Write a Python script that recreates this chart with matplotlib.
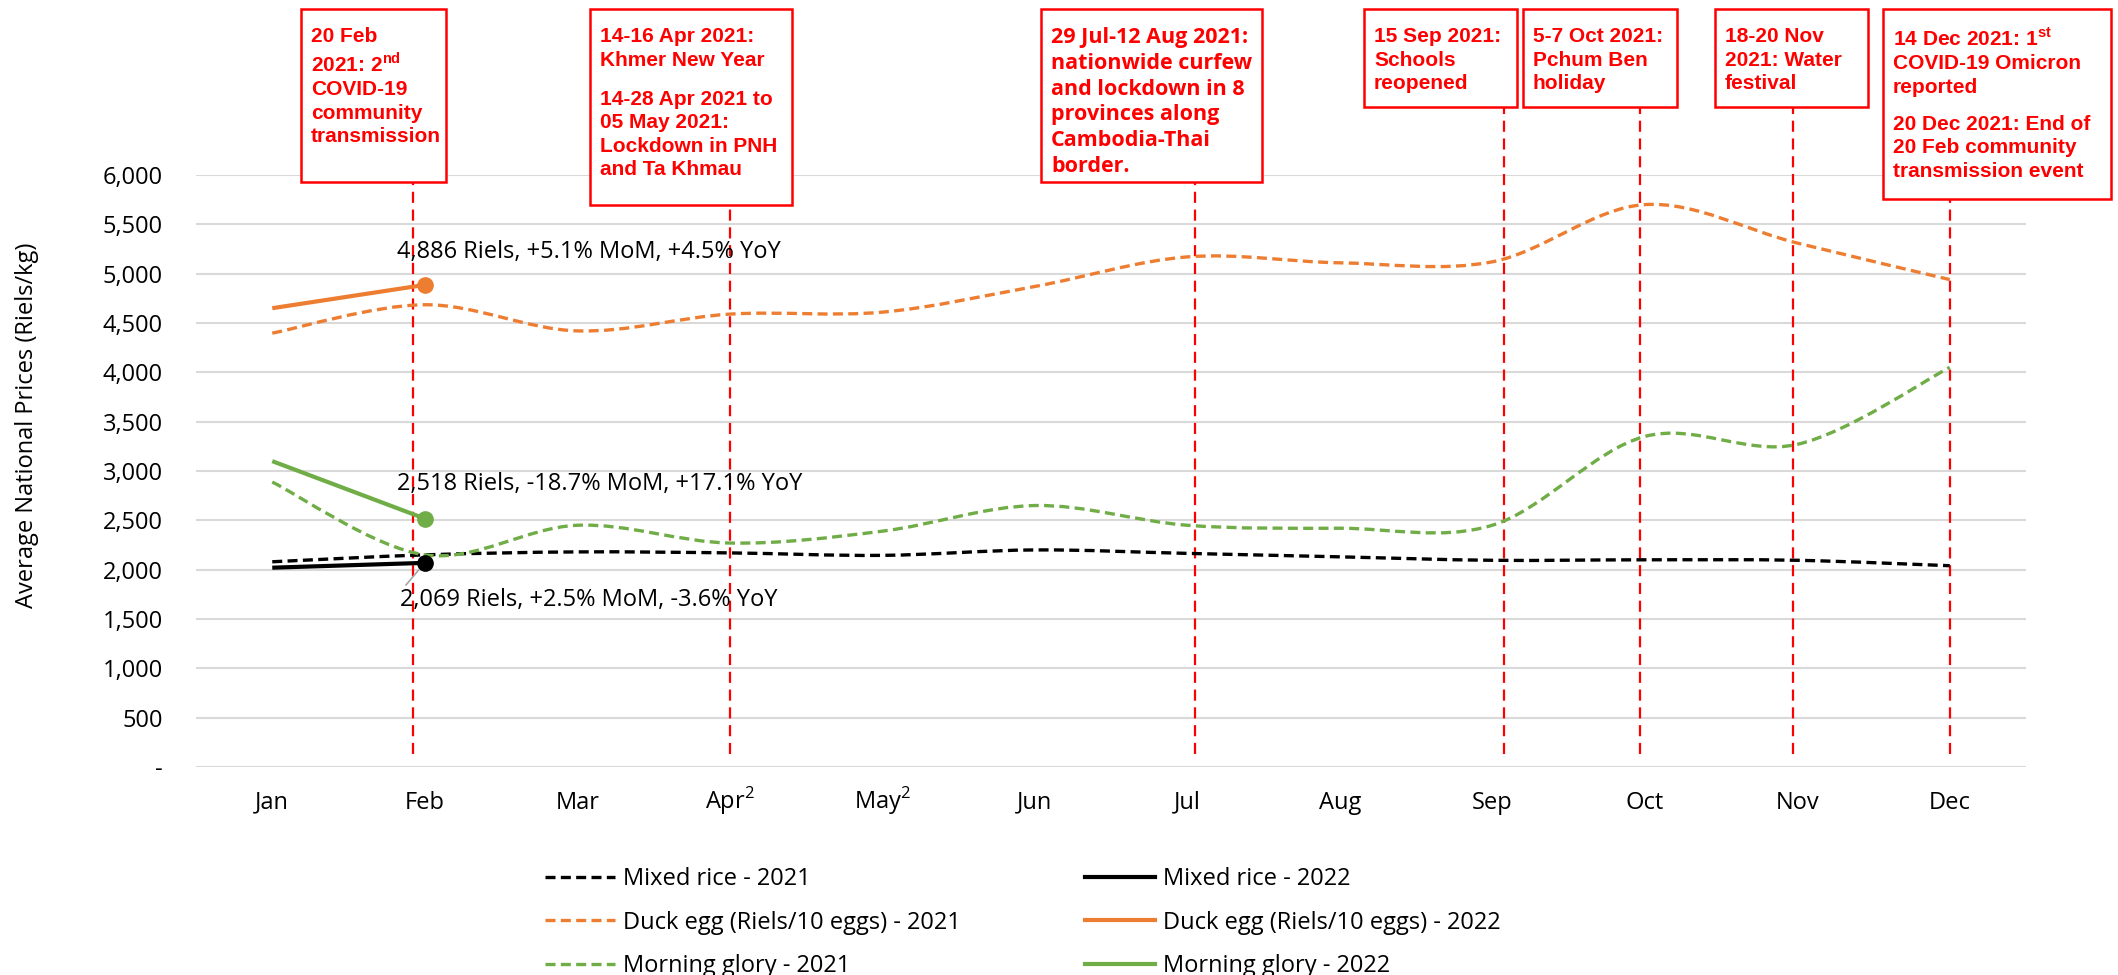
import numpy as np
import matplotlib
matplotlib.use("Agg")
import matplotlib.pyplot as plt
from matplotlib.path import Path
from matplotlib.patches import PathPatch, Rectangle
from matplotlib.lines import Line2D

plt.rcParams['font.family'] = ['Open Sans', 'DejaVu Sans']
plt.rcParams['mathtext.fontset'] = 'custom'
plt.rcParams['mathtext.rm'] = 'Open Sans'
plt.rcParams['mathtext.bf'] = 'Liberation Sans:bold'

months = ['Jan', 'Feb', 'Mar', 'Apr$^2$', 'May$^2$', 'Jun', 'Jul', 'Aug', 'Sep', 'Oct', 'Nov', 'Dec']

rice_2021 = [2080, 2150, 2180, 2170, 2145, 2200, 2165, 2130, 2095, 2100, 2095, 2040]
rice_2022 = [2020, 2069]
egg_2021 = [4397, 4685, 4420, 4590, 4610, 4870, 5170, 5110, 5120, 5700, 5310, 4940]
egg_2022 = [4650, 4886]
glory_2021 = [2888, 2150, 2450, 2270, 2390, 2650, 2450, 2420, 2450, 3350, 3270, 4050]
glory_2022 = [3100, 2518]

point_labels = ['4,886 Riels, +5.1% MoM, +4.5% YoY',
                '2,518 Riels, -18.7% MoM, +17.1% YoY',
                '2,069 Riels, +2.5% MoM, -3.6% YoY']

event_x = [0.92, 3.0, 6.05, 8.08, 8.97, 9.97, 11.0]
event_texts = [
    ['20 Feb\n2021: 2$^{\\mathbf{nd}}$\nCOVID-19\ncommunity\ntransmission'],
    ['14-16 Apr 2021:\nKhmer New Year',
     '14-28 Apr 2021 to\n05 May 2021:\nLockdown in PNH\nand Ta Khmau'],
    ['29 Jul-12 Aug 2021:\nnationwide curfew\nand lockdown in 8\nprovinces along\nCambodia-Thai\nborder.'],
    ['15 Sep 2021:\nSchools\nreopened'],
    ['5-7 Oct 2021:\nPchum Ben\nholiday'],
    ['18-20 Nov\n2021: Water\nfestival'],
    ['14 Dec 2021: 1$^{\\mathbf{st}}$\nCOVID-19 Omicron\nreported',
     '20 Dec 2021: End of\n20 Feb community\ntransmission event'],
]
# box extents in pixels (left, top, right, bottom)
boxes = [(301, 9, 446, 182), (590, 9, 792, 205), (1041, 9, 1262, 182),
         (1364, 9, 1517, 107), (1523, 9, 1677, 107), (1715, 9, 1868, 107),
         (1883, 9, 2111, 199)]

BLACK = '#000000'
ORANGE = '#ED7D31'
GREEN = '#70AD47'
RED = '#FF0000'
FS = 17

W, H = 2118, 975
fig = plt.figure(figsize=(W / 100, H / 100), dpi=100)
ax = fig.add_axes([196 / W, 1 - 767 / H, (2026 - 196) / W, (767 - 175) / H])


def smooth_patch(ys, color):
    pts = np.column_stack([np.arange(len(ys)), ys]).astype(float)
    n = len(pts)
    verts = [pts[0]]
    codes = [Path.MOVETO]
    for i in range(n - 1):
        p0 = pts[max(i - 1, 0)]
        p1 = pts[i]
        p2 = pts[i + 1]
        p3 = pts[min(i + 2, n - 1)]
        verts += [p1 + (p2 - p0) / 6, p2 - (p3 - p1) / 6, p2]
        codes += [Path.CURVE4] * 3
    patch = PathPatch(Path(verts, codes), fill=False, ec=color, lw=2.4,
                      linestyle=(0, (3, 1.6)), capstyle='butt', zorder=3)
    ax.add_patch(patch)


smooth_patch(rice_2021, BLACK)
smooth_patch(egg_2021, ORANGE)
smooth_patch(glory_2021, GREEN)

for vals, c in [(rice_2022, BLACK), (egg_2022, ORANGE), (glory_2022, GREEN)]:
    ax.plot(range(len(vals)), vals, color=c, lw=3, zorder=4, solid_capstyle='butt')
    ax.plot(len(vals) - 1, vals[-1], 'o', color=c, ms=11, zorder=5)

# event lines
for ex in event_x:
    ax.plot([ex, ex], [130, 6750], color=RED, lw=1.6, linestyle=(0, (5, 3)),
            clip_on=False, zorder=2)

# point labels
ax.annotate(point_labels[0], xy=(1, egg_2022[-1]), xytext=(-28, 33),
            textcoords='offset pixels', ha='left', va='center', fontsize=FS)
ax.annotate(point_labels[1], xy=(1, glory_2022[-1]), xytext=(-28, 35),
            textcoords='offset pixels', ha='left', va='center', fontsize=FS)
ax.annotate(point_labels[2], xy=(1, rice_2022[-1]), xytext=(-25, -37),
            textcoords='offset pixels', ha='left', va='center', fontsize=FS,
            arrowprops=dict(arrowstyle='-', color='#A6A6A6', lw=1.2,
                            relpos=(0.01, 1), shrinkA=0, shrinkB=7))

ax.set_xlim(-0.5, 11.5)
ax.set_ylim(0, 6000)
ax.set_xticks(range(12))
ax.set_xticklabels(months, fontsize=FS, va='baseline')
yt = np.arange(0, 6001, 500)
ax.set_yticks(yt)
ax.set_yticklabels(['-' if v == 0 else f'{v:,}' for v in yt], fontsize=FS)
ax.tick_params(axis='both', length=0, colors='#000000')
ax.tick_params(axis='y', pad=24)
ax.tick_params(axis='x', pad=30)
ax.grid(axis='y', color='#D9D9D9', lw=1.5)
ax.set_axisbelow(True)
for s in ax.spines.values():
    s.set_visible(False)

fig.text(27 / W, 1 - 425 / H, 'Average National Prices (Riels/kg)', rotation=90,
         ha='center', va='center', fontsize=FS)

# event boxes
for i, (bx, texts) in enumerate(zip(boxes, event_texts)):
    l, t, r, b = bx
    fig.patches.append(Rectangle((l / W, 1 - b / H), (r - l) / W, (b - t) / H,
                                 transform=fig.transFigure, fc='white', ec=RED,
                                 lw=1.8, zorder=5))
    if i == 2:
        fam, size = 'Open Sans', 15.5
    else:
        fam, size = 'Liberation Sans', 15
    ty = t + 18
    for txt in texts:
        fig.text((l + 10) / W, 1 - ty / H, txt, ha='left', va='top', color=RED,
                 fontsize=size, fontweight='bold', family=fam, linespacing=1.3,
                 zorder=6)
        ty += 25.3 * (txt.count('\n') + 1) + 12

handles = [Line2D([], [], color=BLACK, lw=2.4, ls=(0, (3, 1.6))),
           Line2D([], [], color=ORANGE, lw=2.4, ls=(0, (3, 1.6))),
           Line2D([], [], color=GREEN, lw=2.4, ls=(0, (3, 1.6))),
           Line2D([], [], color=BLACK, lw=3),
           Line2D([], [], color=ORANGE, lw=3),
           Line2D([], [], color=GREEN, lw=3)]
labels = ['Mixed rice - 2021', 'Duck egg (Riels/10 eggs) - 2021', 'Morning glory - 2021',
          'Mixed rice - 2022', 'Duck egg (Riels/10 eggs) - 2022', 'Morning glory - 2022']
fig.legend(handles, labels, ncol=2, loc='upper left', frameon=False,
           bbox_to_anchor=(545 / W, 1 - 867 / H), fontsize=FS, handlelength=2.97,
           handletextpad=0.34, columnspacing=5.26, labelspacing=0.83,
           borderpad=0, borderaxespad=0)

fig.savefig('out.png', dpi=100)
